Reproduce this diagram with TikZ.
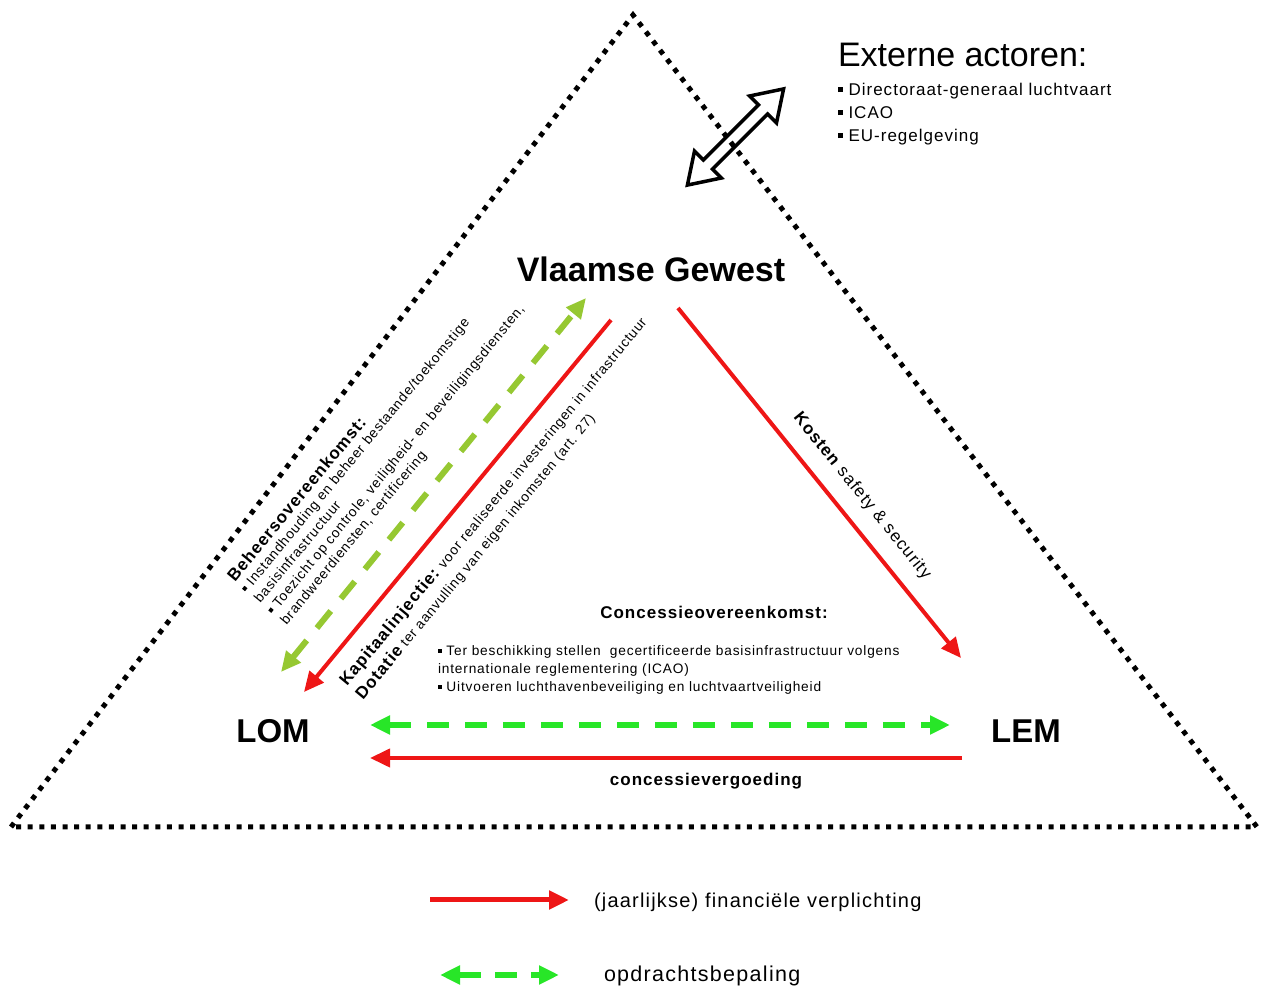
\documentclass[tikz,border=0pt]{standalone}
\usepackage{fontspec}
\setmainfont{Liberation Sans}
\newfontfamily\spc[LetterSpace=6]{Liberation Sans}
\usetikzlibrary{arrows.meta}
\definecolor{myred}{RGB}{238,22,22}
\definecolor{lgreen}{RGB}{150,200,50}
\definecolor{bgreen}{RGB}{40,230,40}
\newcommand{\sqb}{\rule[0.22em]{0.28em}{0.28em}}
\newcommand{\fs}[1]{\fontsize{#1}{#1}\selectfont}
\begin{document}
\begin{tikzpicture}[x=1pt,y=1pt,
  tri/.style={line width=5pt, dash pattern=on 5pt off 6.6pt, black},
  fin/.style={myred, line width=4pt, -{Triangle[length=20pt,width=18pt]}},
  opdl/.style={lgreen, line width=6pt, dash pattern=on 22pt off 16pt, {Triangle[length=20pt,width=18pt]}-{Triangle[length=20pt,width=18pt]}},
  opdb/.style={bgreen, line width=6pt, dash pattern=on 22pt off 16pt, {Triangle[length=20pt,width=18pt]}-{Triangle[length=20pt,width=18pt]}},
  lbl/.style={inner sep=0pt, outer sep=0pt},
  big/.style={lbl, font=\fs{34}\bfseries},
  small/.style={lbl, font=\spc\fs{13.8}},
]
\useasboundingbox (0,0) rectangle (1262,988);

% triangle
\coordinate (apex) at (633,973);
\coordinate (bl) at (11,161);
\coordinate (br) at (1257,161);
\draw[tri] (bl) -- (apex) -- (br) -- cycle;

% external actors double arrow
\draw[line width=3.5pt, line join=miter, shift={(735.5,851)}, rotate=45]
  (-68,0) -- (-39,19) -- (-39,6.5) -- (39,6.5) -- (39,19) -- (68,0)
  -- (39,-19) -- (39,-6.5) -- (-39,-6.5) -- (-39,-19) -- cycle;

\node[lbl, anchor=base west, font=\fs{34}] (ext) at (838,921) {Externe actoren:};
\node[lbl, anchor=base west, font=\spc\fs{17}] (ext1) at (838,892) {\sqb\ Directoraat-generaal luchtvaart};
\node[lbl, anchor=base west, font=\spc\fs{17}] (ext2) at (838,869) {\sqb\ ICAO};
\node[lbl, anchor=base west, font=\spc\fs{17}] (ext3) at (838,846) {\sqb\ EU-regelgeving};

% main actors
\node[big, anchor=base] (vg) at (651,706) {Vlaamse Gewest};
\node[big, anchor=base, font=\fs{33}\bfseries] (lom) at (273,245) {LOM};
\node[big, anchor=base, font=\fs{33}\bfseries] (lem) at (1026,245) {LEM};

% arrow end points
\coordinate (vgA) at (611,668);
\coordinate (lomA) at (304,296);
\coordinate (vgG) at (586,690);
\coordinate (lomG) at (281,316);
\coordinate (vgB) at (678,680);
\coordinate (lemB) at (961,330);
\coordinate (lomH) at (370,263);
\coordinate (lemH) at (950,263);
\coordinate (lemR) at (962,230);
\coordinate (lomR) at (370,230);

\draw[opdl] (lomG) -- (vgG);
\draw[fin] (vgA) -- (lomA);
\draw[fin] (vgB) -- (lemB);
\draw[opdb] (lomH) -- (lemH);
\draw[fin] (lemR) -- (lomR);

% Beheersovereenkomst text
\begin{scope}[shift={(235,405)}, rotate=50.5, transform shape]
  \node[lbl, anchor=base west, font=\spc\fs{17}\bfseries] (beh0) at (0,0) {Beheersovereenkomst:};
  \node[small, anchor=base west] (beh1) at (0,-16) {\sqb\ Instandhouding en beheer bestaande/toekomstige};
  \node[small, anchor=base west] (beh2) at (0,-33) {basisinfrastructuur};
  \node[small, anchor=base west] (beh3) at (0,-50) {\sqb\ Toezicht op controle, veiligheid- en beveiligingsdiensten,};
  \node[small, anchor=base west] (beh4) at (0,-67) {brandweerdiensten, certificering};
\end{scope}

% Kapitaalinjectie text
\begin{scope}[shift={(347,301)}, rotate=50.5, transform shape]
  \node[small, anchor=base west] (kap) at (0,0) {{\fs{17}\bfseries Kapitaalinjectie:} voor realiseerde investeringen in infrastructuur};
  \node[small, anchor=base west] (dot) at (0,-21) {{\fs{17}\bfseries Dotatie} ter aanvulling van eigen inkomsten (art. 27)};
\end{scope}

% Kosten text
\begin{scope}[shift={(793,570)}, rotate=-51, transform shape]
  \node[lbl, anchor=base west, font=\spc\fs{17}] (kos) at (0,0) {\textbf{Kosten} safety \& security};
\end{scope}

% Concessie
\node[lbl, anchor=base, font=\spc\fs{17}\bfseries] (con) at (714,369) {Concessieovereenkomst:};
\node[lbl, anchor=base west, font=\spc\fs{13.7}] (con1) at (438,332) {\sqb\ Ter beschikking stellen\ \ gecertificeerde basisinfrastructuur volgens};
\node[lbl, anchor=base west, font=\spc\fs{13.7}] (con2) at (438,314) {internationale reglementering (ICAO)};
\node[lbl, anchor=base west, font=\spc\fs{13.7}] (con3) at (438,296) {\sqb\ Uitvoeren luchthavenbeveiliging en luchtvaartveiligheid};

\node[lbl, anchor=base, font=\spc\fs{17}\bfseries] (cvg) at (706,202) {concessievergoeding};

% legend
\coordinate (l1a) at (430,88);
\coordinate (l1b) at (569,88);
\coordinate (l2a) at (440,13);
\coordinate (l2b) at (559,13);
\draw[myred, line width=5pt, -{Triangle[length=20pt,width=18pt]}] (l1a) -- (l1b);
\draw[bgreen, line width=6pt, dash pattern=on 22pt off 14pt, {Triangle[length=20pt,width=18pt]}-{Triangle[length=20pt,width=18pt]}] (l2a) -- (l2b);
\node[lbl, anchor=base west, font=\spc\fs{20}] (leg1) at (594,80) {(jaarlijkse) financiële verplichting};
\node[lbl, anchor=base west, font=\spc\fs{21.5}] (leg2) at (604,6) {opdrachtsbepaling};
\end{tikzpicture}
\end{document}
